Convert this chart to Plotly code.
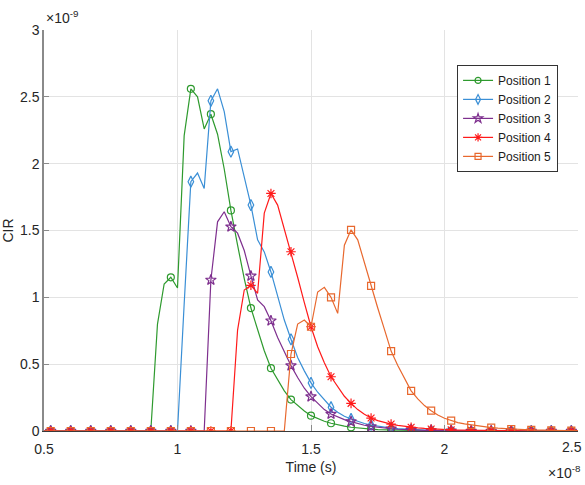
import numpy as np
import plotly.graph_objects as go

# time samples in units of 1e-8 s (0.5 ... 2.5, step 0.025)
time_e8 = np.round(np.arange(0.5, 2.5 + 1e-9, 0.025), 3)

# CIR values in units of 1e-9
pos1 = [0]*17 + [0.80, 1.10, 1.15, 1.07, 2.21, 2.56, 2.50, 2.26, 2.37, 2.22, 1.96, 1.65, 1.39, 1.14,
        0.92, 0.75, 0.60, 0.47, 0.38, 0.30, 0.235, 0.19, 0.15, 0.115, 0.093, 0.073, 0.058, 0.046,
        0.036, 0.028, 0.022, 0.018, 0.014, 0.011, 0.009, 0.007, 0.005, 0.004, 0.003, 0.002, 0.002,
        0.001] + [0]*22
pos2 = [0]*21 + [0.95, 1.865, 1.93, 1.815, 2.47, 2.56, 2.39, 2.09, 2.11, 1.90, 1.69, 1.43, 1.34,
        1.19, 1.00, 0.83, 0.686, 0.55, 0.45, 0.36, 0.29, 0.23, 0.178, 0.14, 0.11, 0.09, 0.07, 0.056,
        0.045, 0.036, 0.028, 0.022, 0.018, 0.014, 0.011, 0.009, 0.007, 0.005, 0.004, 0.003, 0.002,
        0.002, 0.001] + [0]*16
pos3 = [0]*25 + [1.13, 1.565, 1.64, 1.528, 1.48, 1.35, 1.16, 0.98, 0.93, 0.825, 0.70, 0.59, 0.489,
        0.40, 0.32, 0.257, 0.205, 0.16, 0.127, 0.105, 0.085, 0.07, 0.055, 0.043, 0.034, 0.027, 0.021,
        0.017, 0.013, 0.010, 0.008, 0.006, 0.005, 0.004, 0.003, 0.002, 0.002, 0.001] + [0]*18
pos4 = [0]*29 + [0.755, 1.055, 1.09, 1.03, 1.63, 1.777, 1.69, 1.516, 1.341, 1.15, 0.96, 0.78, 0.63,
        0.51, 0.406, 0.33, 0.26, 0.207, 0.16, 0.125, 0.097, 0.078, 0.064, 0.052, 0.042, 0.034, 0.028,
        0.023, 0.019, 0.015, 0.012, 0.010, 0.008, 0.007, 0.006, 0.005, 0.004, 0.003, 0.003, 0.002,
        0.002, 0.001] + [0]*11
pos5 = [0]*37 + [0.576, 0.80, 0.83, 0.78, 1.04, 1.075, 1.0, 0.88, 1.39, 1.505, 1.43, 1.254, 1.085,
        0.92, 0.76, 0.598, 0.49, 0.39, 0.30, 0.24, 0.19, 0.152, 0.12, 0.095, 0.077, 0.063, 0.053,
        0.045, 0.037, 0.031, 0.025, 0.021, 0.017, 0.014, 0.012, 0.010, 0.008, 0.007, 0.006, 0.005,
        0.004, 0.003, 0.003, 0.002]

names = ["Position 1", "Position 2", "Position 3", "Position 4", "Position 5"]
series = [pos1, pos2, pos3, pos4, pos5]
colors = ["#2e9a2e", "#3a8fd6", "#7e2f8e", "#ff1a1a", "#e8682e"]
symbols = ["circle-open", "diamond-tall-open", "star-open", "asterisk-open", "square-open"]
msizes = [7, 8, 8, 8, 7]

x_ticks = [0.5, 1, 1.5, 2, 2.5]
x_ticktext = ["0.5", "1", "1.5", "2", "2.5"]
y_ticks = [0, 0.5, 1, 1.5, 2, 2.5, 3]
y_ticktext = ["0", "0.5", "1", "1.5", "2", "2.5", "3"]

FONT = "Liberation Sans, Arial, sans-serif"

fig = go.Figure()
for name, y, c, s, ms in zip(names, series, colors, symbols, msizes):
    y = np.array(y, dtype=float)
    fig.add_trace(go.Scatter(x=time_e8, y=y, mode="lines", line=dict(color=c, width=1.2),
                             showlegend=False, legendgroup=name, hoverinfo="skip"))
    idx = np.arange(1, len(time_e8), 3)
    fig.add_trace(go.Scatter(x=time_e8[idx], y=y[idx], mode="markers",
                             marker=dict(symbol=s, size=ms, color=c, line=dict(color=c, width=1.2)),
                             showlegend=False, legendgroup=name))
    fig.add_trace(go.Scatter(x=[None], y=[None], mode="lines+markers", name=name,
                             line=dict(color=c, width=1.2),
                             marker=dict(symbol=s, size=ms - 1, color=c, line=dict(color=c, width=1.2)),
                             legendgroup=name))

# the last x tick label sits at the page edge: draw it right-aligned so it stays inside
last_label = x_ticktext[-1]
shown_ticktext = x_ticktext[:-1] + [""]

fig.update_layout(
    width=585, height=485,
    margin=dict(l=44, r=7, t=30, b=54, autoexpand=False),
    paper_bgcolor="white", plot_bgcolor="white",
    font=dict(family=FONT, size=14, color="#262626"),
    legend=dict(x=0.7735, y=0.913, xanchor="left", yanchor="top",
                bgcolor="white", bordercolor="#333333", borderwidth=1,
                font=dict(family=FONT, size=12, color="#1a1a1a"),
                itemwidth=30, tracegroupgap=0),
    xaxis=dict(range=[0.5, 2.5], tickvals=x_ticks, ticktext=shown_ticktext,
               showgrid=True, gridcolor="#e3e3e3", gridwidth=1.2,
               showline=True, linecolor="#3a3a3a", linewidth=1.2,
               ticks="inside", ticklen=6, tickcolor="#8a8a8a", zeroline=False,
               ticklabelstandoff=5, automargin=False,
               title=dict(text="Time (s)", font=dict(size=14), standoff=6),
               tickfont=dict(size=14)),
    yaxis=dict(range=[0, 3], tickvals=y_ticks, ticktext=y_ticktext,
               showgrid=True, gridcolor="#e3e3e3", gridwidth=1.2,
               showline=True, linecolor="#8a8a8a", linewidth=1.5,
               ticks="inside", ticklen=5, tickcolor="#8a8a8a", zeroline=False,
               automargin=False,
               title=dict(text="CIR", font=dict(size=14), standoff=4),
               tickfont=dict(size=14)),
    annotations=[
        dict(text=last_label, xref="x", yref="paper", x=x_ticks[-1], y=0,
             xanchor="right", yanchor="top", showarrow=False, xshift=6, yshift=-6,
             font=dict(family=FONT, size=14, color="#262626")),
        dict(text="×10<sup>-9</sup>", xref="paper", yref="paper", x=0, y=1,
             xanchor="left", yanchor="bottom", showarrow=False, yshift=2,
             font=dict(family=FONT, size=14, color="#262626")),
        dict(text="×10<sup>-8</sup>", xref="paper", yref="paper", x=1, y=0,
             xanchor="right", yanchor="top", showarrow=False, xshift=5, yshift=-30,
             font=dict(family=FONT, size=14, color="#262626")),
    ],
)

fig.write_html("out.html")
